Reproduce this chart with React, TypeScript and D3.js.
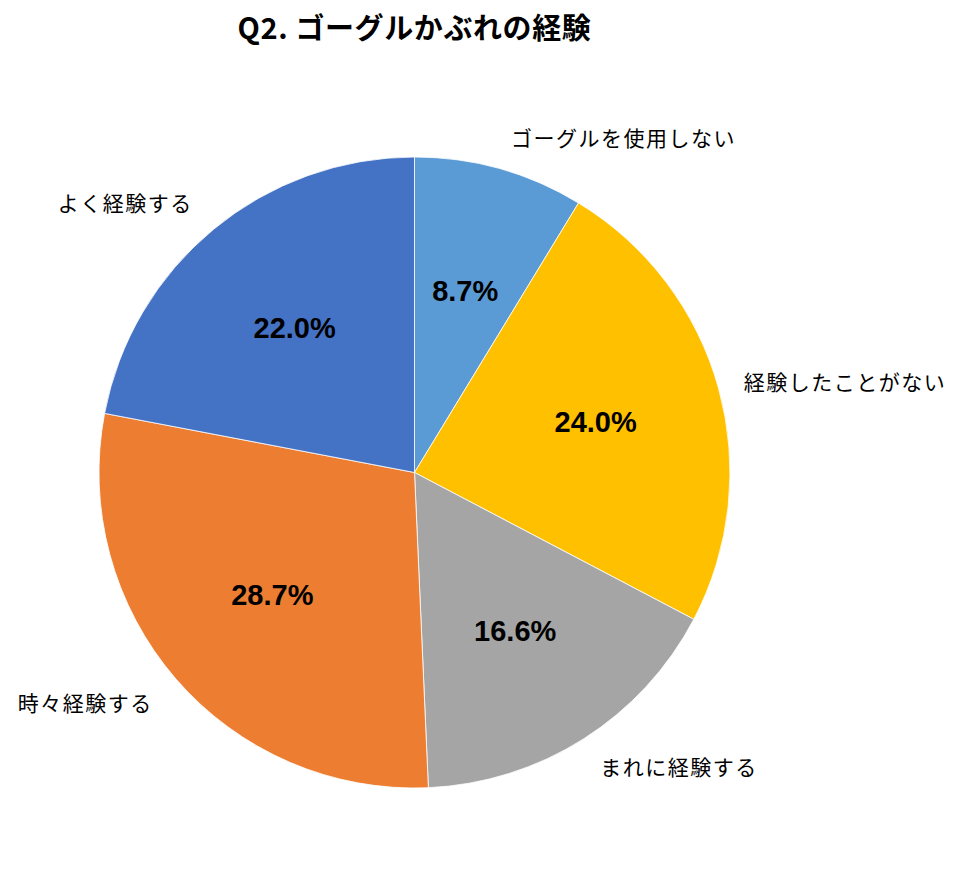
import React from "react";
import * as d3 from "d3";

const categories = ["ゴーグルを使用しない", "経験したことがない", "まれに経験する", "時々経験する", "よく経験する"];
const values = [8.7, 24.0, 16.6, 28.7, 22.0];
const colors = ["#5B9BD5", "#FFC000", "#A5A5A5", "#ED7D31", "#4472C4"];
const title = "Q2. ゴーグルかぶれの経験";

const W = 970;
const H = 883;
const cx = 414.5;
const cy = 472.5;
const R = 315.5;

export default function App() {
  const pie = d3.pie<number>().sort(null).value((d) => d);
  const arcs = pie(values);
  const arcGen = d3.arc<d3.PieArcDatum<number>>().innerRadius(0).outerRadius(R);
  const inner = d3.arc<d3.PieArcDatum<number>>().innerRadius(188).outerRadius(188);
  const jp = "'Noto Sans CJK JP', 'Noto Sans', sans-serif";
  return (
    <svg width={W} height={H} style={{ position: "absolute", left: 0, top: 0, background: "#fff" }}>
      <text x={cx} y={39} textAnchor="middle" fontFamily={jp} fontWeight={700} fontSize={29} letterSpacing={0.6} fill="#000">
        {title}
      </text>
      <g transform={`translate(${cx},${cy})`}>
        {arcs.map((a, i) => (
          <path key={i} d={arcGen(a) || ""} fill={colors[i]} stroke="#fff" strokeWidth={0.8} />
        ))}
        {arcs.map((a, i) => {
          const [x, y] = inner.centroid(a);
          return (
            <text key={"p" + i} x={x} y={y} textAnchor="middle" dominantBaseline="central"
              fontFamily="'Liberation Sans', Arial, sans-serif" fontWeight={700} fontSize={29} fill="#000">
              {values[i].toFixed(1)}%
            </text>
          );
        })}
        {arcs.map((a, i) => {
          const mid = (a.startAngle + a.endAngle) / 2;
          const r = R + 20;
          const s = Math.sin(mid);
          const c = Math.cos(mid);
          const x = r * s + (s >= 0 ? 6 : -8);
          const y = -r * c;
          const anchor = s >= 0 ? "start" : "end";
          let dy = "0.35em";
          let yy = y;
          if (c > 0.5) { dy = "0"; yy = y - 3; }
          else if (c < -0.5) { dy = "0.9em"; yy = y; }
          return (
            <text key={"l" + i} x={x} y={yy} dy={dy} textAnchor={anchor}
              fontFamily={jp} fontSize={21} letterSpacing={1.5} fill="#000">
              {categories[i]}
            </text>
          );
        })}
      </g>
    </svg>
  );
}
